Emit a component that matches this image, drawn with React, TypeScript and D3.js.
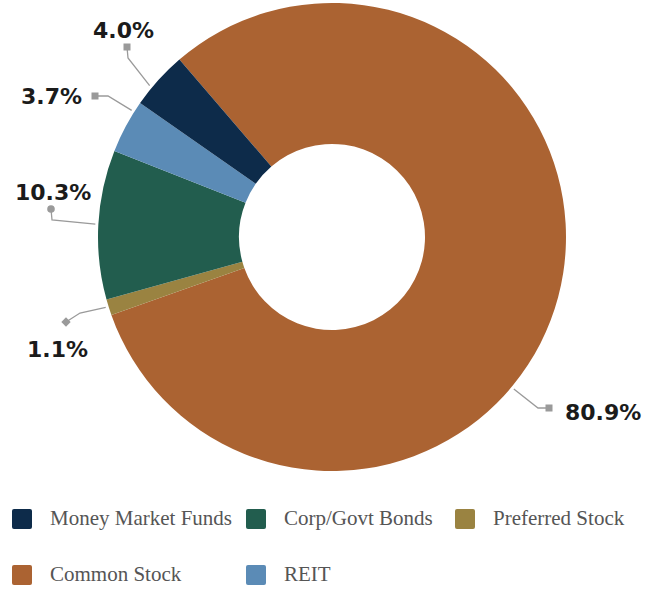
import React from "react";
import * as d3 from "d3";

// ---- Data ----
const categories = ["Money Market Funds", "Corp/Govt Bonds", "Preferred Stock", "Common Stock", "REIT"];
const values = [4.0, 10.3, 1.1, 80.9, 3.7];
const colors = ["#0d2b4a", "#225d4e", "#9a8341", "#ab6332", "#5b8bb6"];
const labels = ["4.0%", "10.3%", "1.1%", "80.9%", "3.7%"];
// clockwise drawing order of slices
const sliceOrder = ["Common Stock", "Preferred Stock", "Corp/Govt Bonds", "REIT", "Money Market Funds"];

// ---- Layout ----
const W = 653;
const H = 590;
const cx = 332;
const cy = 237;
const outerR = 234;
const innerR = 93;
const startDeg = -40.7;

// label annotation layout (relative to pie center)
type LabelLayout = { angle: number; elbow: [number, number]; marker: [number, number]; text: [number, number]; shape: string };
const labelLayout: Record<string, LabelLayout> = {
  "Money Market Funds": { angle: 309.7, elbow: [-204, -179], marker: [-205, -190], text: [-239, -199], shape: "square" },
  "REIT": { angle: 302.3, elbow: [-224, -141], marker: [-237, -141], text: [-311, -133], shape: "square" },
  "Corp/Govt Bonds": { angle: 273.1, elbow: [-280, -17], marker: [-281, -28], text: [-317, -37], shape: "circle" },
  "Preferred Stock": { angle: 252.7, elbow: [-252, 76], marker: [-266, 85], text: [-305, 120], shape: "diamond" },
  "Common Stock": { angle: 129.9, elbow: [206, 171], marker: [217, 171], text: [233, 183], shape: "square" },
};

const legendRows = [
  ["Money Market Funds", "Corp/Govt Bonds", "Preferred Stock"],
  ["Common Stock", "REIT"],
];
const legendColX = [12, 246, 455];
const legendRowY = [519, 575];

export default function App() {
  const rows = sliceOrder.map((name) => {
    const i = categories.indexOf(name);
    return { name, value: values[i], color: colors[i], label: labels[i] };
  });
  const a0 = (startDeg * Math.PI) / 180;
  const pie = d3
    .pie<any>()
    .sort(null)
    .value((d: any) => d.value)
    .startAngle(a0)
    .endAngle(a0 + 2 * Math.PI);
  const arcs = pie(rows);
  const arcGen = d3.arc<any>().innerRadius(innerR).outerRadius(outerR);

  const lineColor = "#9a9a9a";

  return (
    <svg width={W} height={H} style={{ position: "absolute", left: 0, top: 0, background: "#fff" }}>
      <g transform={`translate(${cx},${cy})`}>
        {arcs.map((a: any) => (
          <path key={a.data.name} d={arcGen(a) as string} fill={a.data.color} />
        ))}
        {rows.map((r) => {
          const L = labelLayout[r.name];
          const ang = (L.angle * Math.PI) / 180;
          const sx = Math.sin(ang) * (outerR + 3);
          const sy = -Math.cos(ang) * (outerR + 3);
          const [mx, my] = L.marker;
          let marker;
          if (L.shape === "square") marker = <rect x={mx - 3.5} y={my - 3.5} width={7} height={7} fill={lineColor} />;
          else if (L.shape === "circle") marker = <circle cx={mx} cy={my} r={3.8} fill={lineColor} />;
          else marker = <rect x={mx - 3.3} y={my - 3.3} width={6.6} height={6.6} fill={lineColor} transform={`rotate(45 ${mx} ${my})`} />;
          return (
            <g key={r.name}>
              <polyline
                points={`${sx},${sy} ${L.elbow[0]},${L.elbow[1]} ${mx},${my}`}
                fill="none"
                stroke={lineColor}
                strokeWidth={1.3}
              />
              {marker}
              <text
                x={L.text[0]}
                y={L.text[1]}
                fontFamily="'DejaVu Sans', sans-serif"
                fontWeight="bold"
                fontSize={22}
                fill="#1b1b1b"
              >
                {r.label}
              </text>
            </g>
          );
        })}
      </g>
      {legendRows.map((row, ri) =>
        row.map((name, ci) => {
          const i = categories.indexOf(name);
          const x = legendColX[ci];
          const y = legendRowY[ri];
          return (
            <g key={name}>
              <rect x={x} y={y - 10} width={20} height={20} rx={2} fill={colors[i]} />
              <text
                x={x + 38}
                y={y + 6}
                fontFamily="'Liberation Serif', serif"
                fontSize={21}
                fill="#555"
              >
                {name}
              </text>
            </g>
          );
        })
      )}
    </svg>
  );
}
